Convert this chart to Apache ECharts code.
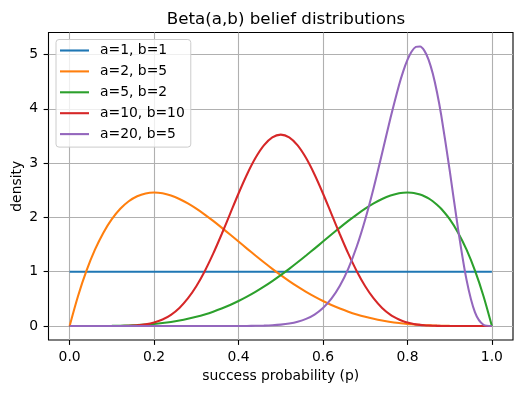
<!DOCTYPE html>
<html>
<head>
<meta charset="utf-8">
<script src="https://cdn.jsdelivr.net/npm/echarts@6/dist/echarts.min.js"></script>
<style>
html,body{margin:0;padding:0;background:#fff;}
#chart{width:523px;height:393px;}
</style>
</head>
<body>
<div id="chart"></div>
<script>
// x sample points (success probability p)
var xs = [0.00,0.02,0.04,0.06,0.08,0.10,0.12,0.14,0.16,0.18,0.20,0.22,0.24,0.26,0.28,0.30,0.32,0.34,0.36,0.38,0.40,0.42,0.44,0.46,0.48,0.50,0.52,0.54,0.56,0.58,0.60,0.62,0.64,0.66,0.68,0.70,0.72,0.74,0.76,0.78,0.79,0.80,0.81,0.82,0.83,0.84,0.85,0.86,0.87,0.88,0.90,0.92,0.94,0.96,0.98,1.00];

var seriesNames = ['a=1, b=1','a=2, b=5','a=5, b=2','a=10, b=10','a=20, b=5'];

var beta_1_1 = [1,1,1,1,1,1,1,1,1,1,1,1,1,1,1,1,1,1,1,1,1,1,1,1,1,1,1,1,1,1,1,1,1,1,1,1,1,1,1,1,1,1,1,1,1,1,1,1,1,1,1,1,1,1,1,1];

var beta_2_5 = [0,0.5534,1.0192,1.4053,1.7193,1.9683,2.1589,2.2974,2.3898,2.4414,2.4576,2.4430,2.4021,2.3390,2.2574,2.1609,2.0526,1.9355,1.8119,1.6845,1.5552,1.4259,1.2982,1.1734,1.0529,0.9375,0.8281,0.7254,0.6297,0.5414,0.4608,0.3878,0.3225,0.2646,0.2139,0.1701,0.1328,0.1014,0.0756,0.0548,0.0461,0.0384,0.0317,0.0258,0.0208,0.0165,0.0129,0.0099,0.0075,0.0055,0.0027,0.0011,0.0004,0.0001,0.0000,0];

var beta_5_2 = [0,0.0000,0.0001,0.0004,0.0011,0.0027,0.0055,0.0099,0.0165,0.0258,0.0384,0.0548,0.0756,0.1014,0.1328,0.1701,0.2139,0.2646,0.3225,0.3878,0.4608,0.5414,0.6297,0.7254,0.8281,0.9375,1.0529,1.1734,1.2982,1.4259,1.5552,1.6845,1.8119,1.9355,2.0526,2.1609,2.2574,2.3390,2.4021,2.4430,2.4538,2.4576,2.4537,2.4414,2.4204,2.3898,2.3490,2.2974,2.2343,2.1589,1.9683,1.7193,1.4053,1.0192,0.5534,0];

var beta_10_10 = [0,0,0,0,0.0001,0.0004,0.0015,0.0049,0.0132,0.0307,0.0635,0.1192,0.2065,0.3338,0.5082,0.7337,1.0104,1.3328,1.6901,2.0660,2.4404,2.7903,3.0926,3.3260,3.4735,3.5239,3.4735,3.3260,3.0926,2.7903,2.4404,2.0660,1.6901,1.3328,1.0104,0.7337,0.5082,0.3338,0.2065,0.1192,0.0879,0.0635,0.0447,0.0307,0.0205,0.0132,0.0082,0.0049,0.0028,0.0015,0.0004,0.0001,0,0,0,0];

var beta_20_5 = [0,0,0,0,0,0,0,0,0,0,0,0,0,0,0,0,0,0,0.0001,0.0003,0.0008,0.0017,0.0035,0.0071,0.0137,0.0253,0.0453,0.0783,0.1308,0.2116,0.3315,0.5035,0.7414,1.0584,1.4645,1.9623,2.5431,3.1819,3.8344,4.4349,4.6903,4.9003,5.0543,5.1399,5.1482,5.0721,4.9064,4.6489,4.3058,3.8841,2.8709,1.7853,0.8500,0.2505,0.0232,0];

var xTicks = [0.0,0.2,0.4,0.6,0.8,1.0];
var yTicks = [0,1,2,3,4,5];

var colors = ['#1f77b4','#ff7f0e','#2ca02c','#d62728','#9467bd'];
var allY = [beta_1_1, beta_2_5, beta_5_2, beta_10_10, beta_20_5];

function pairs(ys){ return xs.map(function(x,i){ return [x, ys[i]]; }); }

var font = 'DejaVu Sans';
var chart = echarts.init(document.getElementById('chart'), null, {renderer:'canvas'});

var series = seriesNames.map(function(name, k){
  return {
    name: name,
    type: 'line',
    data: pairs(allY[k]),
    showSymbol: false,
    symbol: 'none',
    smooth: 0.3,
    lineStyle: {color: colors[k], width: 2.08},
    itemStyle: {color: colors[k]},
    emphasis: {disabled: true},
    animation: false,
    z: 3
  };
});

chart.setOption({
  animation: false,
  backgroundColor: '#fff',
  title: {
    text: 'Beta(a,b) belief distributions',
    left: 281,
    textAlign: 'center',
    top: 6,
    textStyle: {fontFamily: font, fontSize: 16.7, fontWeight: 'normal', color: '#000'}
  },
  grid: {
    left: 48.5, right: 10, top: 32.5, bottom: 53,
    show: true, borderColor: '#000', borderWidth: 1.1, backgroundColor: 'transparent',
    containLabel: false,
    outerBoundsMode: 'none'
  },
  legend: {
    orient: 'vertical',
    left: 56, top: 39.5,
    padding: [4, 6, 6, 4],
    itemGap: 6.9,
    itemWidth: 29,
    itemHeight: 2.1,
    icon: 'rect',
    backgroundColor: 'rgba(255,255,255,0.8)',
    borderColor: '#cccccc',
    borderWidth: 1,
    borderRadius: 3,
    textStyle: {fontFamily: font, fontSize: 13.9, color: '#000', lineHeight: 13.9, padding: [0,0,0,6]},
    data: seriesNames
  },
  xAxis: {
    type: 'value',
    min: -0.05, max: 1.05,
    name: 'success probability (p)',
    nameLocation: 'middle',
    nameGap: 29,
    nameMoveOverlap: false,
    nameTextStyle: {fontFamily: font, fontSize: 13.9, color: '#000'},
    axisLine: {show: false, onZero: false},
    axisTick: {show: true, customValues: xTicks, length: 4.9, lineStyle: {color: '#000', width: 1.1}},
    axisLabel: {customValues: xTicks, margin: 10, fontFamily: font, fontSize: 13.9, color: '#000',
      formatter: function(v){ return v.toFixed(1); }},
    splitLine: {show: true, lineStyle: {color: '#b0b0b0', width: 1.1}}
  },
  yAxis: {
    type: 'value',
    min: -0.2575, max: 5.405,
    name: 'density',
    nameLocation: 'middle',
    nameGap: 24,
    nameMoveOverlap: false,
    nameRotate: 90,
    nameTextStyle: {fontFamily: font, fontSize: 13.9, color: '#000'},
    axisLine: {show: false, onZero: false},
    axisTick: {show: true, customValues: yTicks, length: 4.9, lineStyle: {color: '#000', width: 1.1}},
    axisLabel: {customValues: yTicks, margin: 10.5, fontFamily: font, fontSize: 13.9, color: '#000'},
    splitLine: {show: true, lineStyle: {color: '#b0b0b0', width: 1.1}}
  },
  series: series
});
</script>
</body>
</html>
